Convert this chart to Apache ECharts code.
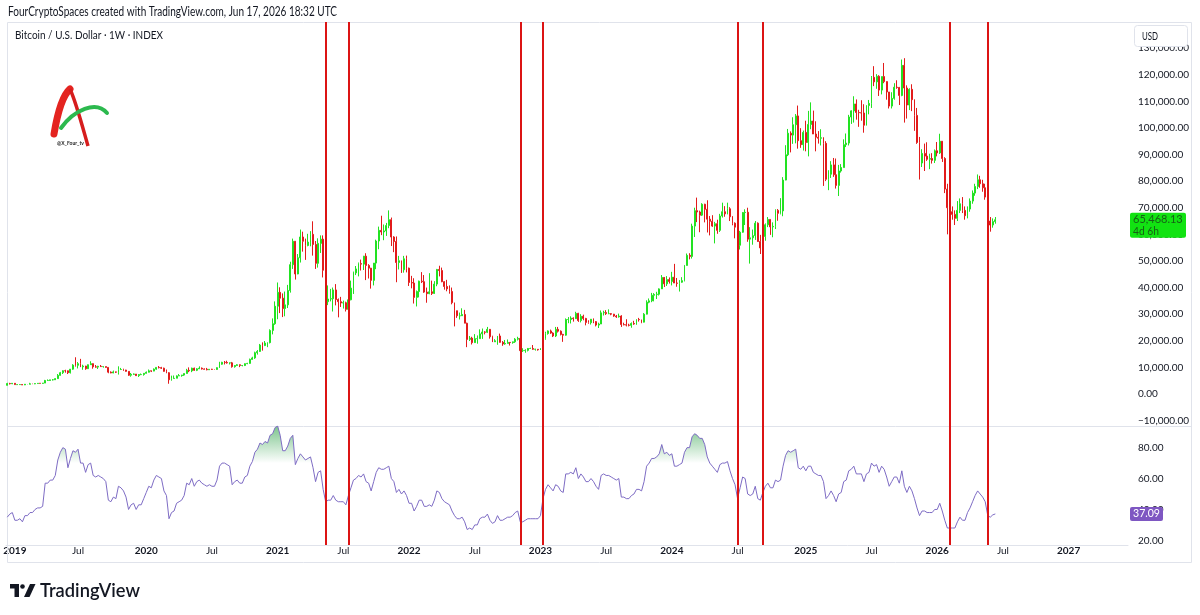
<!DOCTYPE html>
<html>
<head>
<meta charset="utf-8">
<title>BTCUSD 1W</title>
<script src="https://cdn.jsdelivr.net/npm/echarts@6.0.0/dist/echarts.min.js"></script>
<style>
html,body{margin:0;padding:0;background:#fff}
#main{width:1200px;height:615px}
</style>
</head>
<body>
<div id="main"></div>
<script>
// weekly bars start on this Monday; the axis keeps running to mid 2027
var firstWeek = '2018-12-17';
var axisWeeks = 444;

// BTC weekly candles in thousands of USD (a week opens at the prior week's close)
var firstOpen = 3.25;
var closes = [
  3.95,3.86,4.03,3.53,3.53,3.55,3.41,3.67,3.67,3.82,3.81,3.92,4.02,3.99,4.1,5.07,5.07,5.32,5.35,5.77,
  7.0,8.0,8.74,8.73,8.0,9.33,10.85,10.8,11.4,10.2,10.5,9.5,11.0,11.4,10.2,10.1,10.4,10.3,10.3,10.0,
  8.2,7.9,8.3,8.2,9.2,9.2,9.0,8.5,7.05,7.4,7.5,6.9,7.3,7.3,7.76,8.18,8.7,8.6,9.34,10.0,
  9.9,9.7,8.5,8.0,5.35,5.8,5.9,6.8,6.9,7.1,7.7,8.9,8.7,9.7,8.9,9.45,9.7,9.4,9.3,9.1,
  9.3,9.25,9.2,9.9,11.2,11.9,11.85,11.65,11.7,10.25,10.7,11.0,10.7,10.7,11.4,11.5,13.0,13.55,15.5,16.0,
  18.4,18.2,19.15,19.3,23.9,26.4,33.0,38.2,36.0,32.1,33.5,38.9,48.6,57.4,45.1,51.2,59.0,57.4,55.8,57.1,
  60.0,56.2,49.1,56.6,58.2,46.5,34.7,35.7,35.8,39.1,35.5,34.7,34.2,34.3,31.8,35.4,39.8,45.5,47.0,49.0,
  48.8,51.8,48.3,47.3,42.7,49.2,57.5,61.5,60.9,61.3,63.3,65.5,59.0,57.3,49.4,50.1,46.7,50.8,47.3,41.9,
  41.7,36.3,38.5,42.4,42.2,38.3,37.7,38.4,37.8,41.3,46.8,46.4,42.2,40.4,39.5,38.5,34.3,31.3,29.4,29.4,
  29.9,26.6,20.5,21.0,19.3,20.8,20.8,22.6,23.3,23.2,24.3,21.5,19.6,20.0,21.8,19.4,18.8,19.0,19.4,19.3,
  19.6,20.6,20.9,16.3,16.3,16.4,17.1,17.1,16.8,16.8,16.6,17.1,20.9,22.7,23.7,22.9,21.8,24.3,23.6,22.4,
  22.1,28.0,28.0,28.5,28.3,30.3,27.6,29.2,28.4,26.9,26.8,28.1,27.2,25.9,26.3,30.5,30.6,30.2,30.2,30.0,
  29.3,29.0,29.3,26.1,26.0,25.9,25.8,26.5,26.3,28.0,27.9,27.0,30.0,34.5,35.0,37.1,37.4,37.5,39.5,43.8,
  41.4,43.0,42.3,43.9,41.7,41.6,42.0,42.6,48.3,52.1,51.7,63.1,68.9,68.4,67.2,71.3,69.4,65.7,64.9,63.1,
  64.0,61.5,66.9,68.5,67.7,69.6,66.6,64.2,62.7,55.9,60.8,68.2,68.3,58.2,58.7,59.5,64.2,57.3,54.9,59.2,
  63.6,65.6,62.8,63.0,69.0,67.9,68.8,80.4,89.9,98.0,97.3,101.2,104.5,95.2,93.7,98.3,94.5,101.3,102.6,97.7,
  96.5,96.1,96.3,94.2,80.7,82.6,86.1,82.4,78.4,83.8,85.1,93.7,94.3,104.1,106.4,109.0,105.8,105.7,105.6,101.0,
  108.4,109.2,119.0,117.3,119.4,114.2,119.3,117.4,113.5,108.2,111.1,115.3,115.2,112.2,123.5,115.0,108.6,114.5,110.6,104.7,
  94.5,86.8,90.4,89.4,88.2,88.5,87.8,91.4,90.6,95.0,88.5,77.0,70.0,68.5,67.5,66.0,69.0,71.5,69.0,67.0,
  69.5,72.5,75.5,78.0,80.5,79.0,77.5,74.0,65.0,63.5,64.8,65.46813
];
var highs = [
  4.2,4.2,4.1,4.1,3.7,3.6,3.6,3.7,3.7,4.2,3.9,3.95,4.03,4.08,4.13,5.3,5.47,5.35,5.6,5.9,
  7.5,8.3,8.9,9.1,8.8,9.4,11.2,13.8,12.0,13.2,11.0,10.6,11.1,12.3,11.5,10.9,10.6,10.9,10.4,10.3,
  10.0,8.5,8.8,8.4,10.4,9.8,9.5,9.1,8.5,7.9,7.7,7.5,7.5,7.7,7.8,8.45,9.2,8.75,9.6,10.1,
  10.5,10.2,9.9,9.2,8.2,6.9,6.95,7.0,7.5,7.2,7.7,9.45,10.0,9.9,9.9,9.7,10.4,9.95,9.6,9.8,
  9.3,9.45,9.3,10.0,12.1,12.1,12.4,12.5,11.8,12.05,10.9,11.2,10.9,10.9,11.5,11.7,13.3,14.0,15.9,16.5,
  18.8,19.4,19.9,19.4,24.3,28.4,34.8,41.9,40.1,37.8,38.5,41.0,49.7,58.4,57.5,52.6,61.8,61.0,58.4,60.2,
  61.2,64.9,57.5,58.5,59.6,59.6,46.6,40.8,39.5,40.0,41.3,35.9,36.5,35.1,34.7,35.4,42.6,46.0,48.1,49.4,
  50.5,51.9,52.9,48.8,47.4,49.2,58.0,62.9,67.0,63.7,64.3,69.0,66.3,59.3,59.2,51.9,50.1,51.9,52.0,47.5,
  44.4,43.5,38.9,42.6,45.8,44.7,40.0,45.4,42.6,42.4,47.0,48.2,47.5,42.4,42.9,40.8,40.0,34.3,31.3,30.6,
  32.2,31.6,26.8,21.8,21.5,22.5,22.0,24.3,24.6,23.6,25.2,24.4,21.9,20.6,21.8,22.7,19.9,20.3,20.5,19.5,
  19.7,21.0,21.5,21.0,17.2,16.8,17.3,17.4,18.4,17.0,16.9,17.2,21.1,23.4,23.9,24.2,23.2,25.2,25.2,23.9,
  22.6,28.4,28.9,29.2,28.8,30.9,30.5,30.0,29.8,28.6,27.7,28.2,28.4,27.4,26.8,31.4,31.3,31.5,31.8,30.4,
  30.1,29.7,30.2,29.6,26.8,28.1,26.4,26.9,27.5,28.0,28.6,27.9,30.4,35.2,35.9,38.0,37.9,38.4,39.7,44.7,
  43.4,44.3,43.8,45.9,48.9,43.6,42.8,43.9,48.5,52.8,52.9,64.0,70.0,73.8,68.9,71.7,71.5,72.8,66.9,67.2,
  64.7,65.5,67.7,71.9,70.6,71.9,70.2,66.9,64.5,63.8,61.3,68.4,69.4,70.0,62.7,61.8,65.0,64.5,59.8,60.7,
  64.1,66.5,65.6,64.5,69.4,69.5,73.6,81.5,93.5,99.6,98.7,104.0,105.2,108.4,99.9,99.0,102.7,106.4,109.6,106.5,
  102.5,98.8,99.5,96.5,95.0,84.1,87.5,88.7,88.5,86.1,86.4,95.7,97.9,104.9,106.6,111.9,110.7,106.8,110.4,108.9,
  108.5,110.5,119.5,123.2,120.2,119.8,119.3,124.4,117.5,113.5,113.4,116.8,117.9,115.4,125.7,126.2,116.0,114.9,116.4,107.0,
  107.5,96.6,92.0,94.1,94.6,90.3,90.5,91.9,94.7,97.8,95.0,89.0,79.0,72.0,70.5,69.0,72.5,73.5,74.0,70.5,
  70.5,73.5,76.5,79.0,82.5,82.0,80.5,79.0,75.0,66.5,66.0,66.5
];
var lows = [
  3.2,3.6,3.7,3.5,3.5,3.45,3.35,3.35,3.58,3.65,3.7,3.7,3.83,3.95,3.9,4.1,4.93,5.0,5.08,5.28,
  5.7,6.9,7.5,8.0,7.5,7.7,9.1,10.3,9.6,10.1,9.1,9.1,9.4,11.0,9.5,9.9,9.4,10.2,9.9,9.9,
  7.8,7.8,7.8,7.9,7.3,9.0,8.7,8.4,6.8,6.5,7.2,6.8,6.4,7.1,6.9,7.7,8.1,8.25,8.55,9.1,
  9.6,9.4,8.4,7.8,3.85,5.0,5.8,5.9,6.75,6.5,6.8,7.7,8.2,8.2,8.7,8.6,9.4,9.2,9.2,8.9,
  9.0,9.1,9.1,9.1,9.9,11.0,11.1,11.4,11.1,9.9,9.9,10.6,10.1,10.4,10.5,11.2,11.4,12.9,13.2,14.8,
  15.8,16.3,18.0,17.6,19.0,22.4,26.0,28.1,30.4,28.9,29.2,32.3,38.1,47.0,43.0,45.0,49.4,53.5,50.4,55.5,
  55.5,52.0,47.0,47.5,53.0,43.8,30.0,33.4,34.8,31.0,33.3,28.8,32.7,32.1,31.0,29.3,35.2,37.6,44.7,44.2,
  46.4,46.6,42.8,43.4,39.6,40.8,46.9,54.4,59.7,57.8,59.4,62.3,55.6,53.3,42.0,46.8,45.5,45.6,45.7,40.6,
  39.7,34.0,32.9,36.3,41.7,38.0,34.3,37.5,37.2,37.6,40.5,44.2,42.0,39.2,38.6,37.7,33.7,25.4,28.6,28.0,
  29.3,26.6,17.6,19.9,18.6,19.3,18.9,20.8,20.7,22.4,22.9,20.8,19.5,19.6,18.5,19.3,18.1,18.5,19.0,18.2,
  18.9,19.2,20.1,15.6,15.8,15.5,16.0,16.9,16.6,16.3,16.3,16.6,17.1,20.4,22.3,22.6,21.4,21.4,23.1,22.0,
  19.6,21.9,26.6,26.5,27.2,28.2,27.1,26.9,27.7,25.8,26.4,26.1,26.6,25.4,24.8,26.3,29.5,29.7,30.0,29.6,
  29.0,28.6,28.7,25.2,25.8,25.4,25.4,24.9,26.0,26.0,27.2,26.6,26.9,29.9,34.1,34.5,34.8,35.7,37.0,39.5,
  40.2,40.6,41.5,40.8,41.7,40.3,38.5,41.8,42.3,48.3,50.6,50.9,59.0,64.6,60.8,66.9,64.5,60.7,59.6,62.8,
  56.6,60.2,60.9,66.3,66.6,67.5,65.0,63.4,58.5,53.5,54.3,60.6,63.5,57.2,49.0,56.1,57.9,57.2,52.6,54.6,
  57.6,62.7,59.8,58.9,62.0,65.1,67.5,66.8,80.3,89.4,90.8,94.0,94.2,92.2,92.5,91.5,91.2,89.3,99.5,97.7,
  91.2,94.1,93.4,78.2,80.0,76.6,81.2,81.6,77.2,74.4,83.2,85.1,92.8,93.4,101.5,102.0,103.1,100.4,102.7,98.2,
  100.9,105.1,107.5,115.7,114.7,112.0,112.6,116.8,110.6,107.3,107.3,110.6,114.7,108.6,111.9,102.0,103.5,106.7,106.3,98.9,
  94.0,80.6,85.3,83.8,87.6,84.5,86.6,86.8,89.3,90.2,87.2,75.5,60.0,65.0,65.5,63.5,65.0,68.0,68.0,65.5,
  66.0,68.5,71.5,74.5,77.0,77.5,76.0,73.0,62.5,61.0,62.5,64.0
];

// RSI pane, one reading per weekly bar
var rsiValues = [
  35,37,38,33,33,34,32,36,36,38,38,40,41,41,42,57,57,59,59,62,
  72,77,80,79,67,73,78,77,79,70,70,64,69,70,62,61,62,61,60,58,
  46,45,48,47,55,54,52,48,40,43,44,40,43,43,47,51,55,54,59,62,
  61,60,52,49,34,38,39,44,45,46,49,57,56,60,55,58,59,57,56,55,
  56,55,55,59,68,70,70,69,68,56,58,59,57,57,61,62,68,71,77,79,
  83,82,84,83,88,89,93,94,88,78,78,81,86,88,69,73,76,74,72,73,
  74,67,58,64,65,53,45,46,46,49,46,45,45,45,43,49,54,59,60,62,
  61,63,58,57,52,58,64,67,66,66,67,68,60,58,51,53,50,52,49,44,
  44,39,42,46,46,42,42,43,42,46,52,51,47,45,44,43,39,36,34,34,
  35,32,27,28,27,30,30,34,35,35,37,33,31,32,36,33,33,34,35,35,
  36,38,39,32,32,33,34,34,34,34,34,36,47,53,56,54,52,56,55,52,
  51,63,63,64,63,67,60,63,61,58,58,60,58,55,53,62,63,62,62,61,
  60,59,60,48,48,47,47,49,50,53,53,52,58,68,70,73,73,74,76,82,
  76,77,75,76,68,68,69,70,77,80,80,87,89,88,86,86,82,74,70,68,
  66,64,69,70,70,71,65,60,56,47,54,61,60,50,49,50,55,47,46,51,
  55,57,54,54,59,58,59,68,75,78,77,78,79,67,66,68,65,68,68,64,
  63,62,62,58,47,49,52,49,45,50,51,58,59,65,66,68,63,63,63,58,
  63,64,70,68,69,64,68,66,61,55,58,61,61,57,65,55,51,55,52,47,
  41,36,39,39,38,38,38,40,40,44,39,33,28,28,28,28,32,35,33,33,
  38,41,45,49,52,50,48,45,36,35,36.5,37.09
];

// weeks carrying the red vertical markers
var markedWeeks = ['2021-05-17','2021-07-19','2022-11-07','2023-01-09','2024-07-01','2024-09-09','2026-02-09','2026-05-25'];

var priceTicks = [130000,120000,110000,100000,90000,80000,70000,60000,50000,40000,30000,20000,10000,0,-10000];
var rsiTicks = [20,40,60,80];
var lastPrice = 65468.13;
var lastRsi = 37.09;
var countdown = '4d 6h';

var UP = '#22e222', DOWN = '#e21b1b', MARK = '#dc1414', INK = '#131722', FRAME = '#e0e3eb';
var FONT = 'Lato, sans-serif';
var AX = 10;

var probeCtx = document.createElement('canvas').getContext('2d');
function textWidth(s, size, weight) {
  probeCtx.font = (weight || 'normal') + ' ' + size + 'px ' + FONT;
  return probeCtx.measureText(s).width;
}

var weeks = [];
var t0 = Date.parse(firstWeek + 'T00:00:00Z');
for (var i = 0; i < axisWeeks; i++) {
  weeks.push(new Date(t0 + i * 604800000).toISOString().slice(0, 10));
}

var candles = closes.map(function (c, i) {
  var o = i ? closes[i - 1] : firstOpen;
  return [o * 1000, c * 1000, lows[i] * 1000, highs[i] * 1000];
});

function periodStart(idx) {
  if (idx === 0) return false;
  var m = weeks[idx].slice(5, 7);
  return m !== weeks[idx - 1].slice(5, 7) && (m === '01' || m === '07');
}

function money(v) {
  return v.toLocaleString('en-US', {minimumFractionDigits: 2, maximumFractionDigits: 2}).replace('-', '\u2212');
}

function markers() {
  return {
    silent: true,
    symbol: ['none', 'none'],
    label: {show: false},
    lineStyle: {color: MARK, width: 2, type: 'solid'},
    data: markedWeeks.map(function (d) { return {xAxis: d}; })
  };
}

var chart = echarts.init(document.getElementById('main'));

var option = {
  animation: false,
  backgroundColor: '#ffffff',
  textStyle: {fontFamily: FONT},
  grid: [
    {left: 6, right: 72, top: 22, height: 404},
    {left: 6, right: 72, top: 426, height: 119}
  ],
  xAxis: [
    {
      type: 'category', gridIndex: 0, data: weeks, boundaryGap: true,
      axisLine: {show: false}, axisTick: {show: false}, axisLabel: {show: false}, splitLine: {show: false}
    },
    {
      type: 'category', gridIndex: 1, data: weeks, boundaryGap: true,
      axisLine: {show: true, lineStyle: {color: FRAME}}, axisTick: {show: false}, splitLine: {show: false},
      axisLabel: {
        interval: function (idx) { return periodStart(idx); },
        formatter: function (v) { return v.slice(5, 7) === '01' ? '{y|' + v.slice(0, 4) + '}' : 'Jul'; },
        margin: 1, fontSize: AX, color: INK, fontFamily: FONT,
        rich: {y: {fontWeight: 'bold', fontSize: AX, color: INK, fontFamily: FONT}}
      }
    }
  ],
  yAxis: [
    {
      type: 'value', gridIndex: 0, position: 'right', min: -12030, max: 139800,
      splitLine: {show: false}, axisLine: {show: false}, axisTick: {show: false},
      axisLabel: {customValues: priceTicks, formatter: money, margin: 10, fontSize: AX, color: INK, fontFamily: FONT}
    },
    {
      type: 'value', gridIndex: 1, position: 'right', min: 17, max: 94,
      splitLine: {show: false}, axisLine: {show: false}, axisTick: {show: false},
      axisLabel: {customValues: rsiTicks, formatter: function (v) { return v.toFixed(2); }, margin: 10, fontSize: AX, color: INK, fontFamily: FONT}
    }
  ],
  series: [
    {
      name: 'BTCUSD', type: 'candlestick', xAxisIndex: 0, yAxisIndex: 0,
      data: candles, barWidth: 1.4,
      itemStyle: {color: UP, color0: DOWN, borderColor: UP, borderColor0: DOWN, borderWidth: 1},
      markLine: markers()
    },
    {
      name: 'RSI', type: 'line', xAxisIndex: 1, yAxisIndex: 1,
      data: rsiValues, symbol: 'none', showSymbol: false,
      lineStyle: {color: '#7e6cc4', width: 1},
      areaStyle: {color: 'rgba(0,0,0,0)'},
      markLine: markers()
    }
  ]
};

chart.setOption(option);

var y70 = chart.convertToPixel({yAxisIndex: 1}, 70);
var y100 = chart.convertToPixel({yAxisIndex: 1}, 100);
var yLast = chart.convertToPixel({yAxisIndex: 0}, lastPrice);
var yRsi = chart.convertToPixel({yAxisIndex: 1}, lastRsi);

var obFill = new echarts.graphic.LinearGradient(0, y100, 0, y70, [
  {offset: 0, color: 'rgba(20,150,50,1)'},
  {offset: 1, color: 'rgba(20,150,50,0)'}
], true);

// text squeezed (never widened) to the width it takes in the screenshot
function txt(x, y, s, size, color, fitWidth, weight) {
  var w = textWidth(s, size, weight);
  var sx = fitWidth ? Math.min(1, fitWidth / w) : 1;
  return {
    type: 'text', x: x, y: y, z: 120, silent: true, scaleX: sx,
    style: {text: s, fill: color, fontSize: size, fontFamily: FONT, fontWeight: weight || 'normal', verticalAlign: 'middle'}
  };
}

chart.setOption({
  series: [{}, {areaStyle: {color: obFill}}],
  graphic: [
    {type: 'rect', z: 1, silent: true, shape: {x: 7.5, y: 22.5, width: 1184, height: 540}, style: {fill: null, stroke: FRAME, lineWidth: 1}},
    {type: 'line', z: 1, silent: true, shape: {x1: 7.5, y1: 426.5, x2: 1191.5, y2: 426.5}, style: {stroke: FRAME, lineWidth: 1}},
    txt(8, 12, 'FourCryptoSpaces created with TradingView.com, Jun 17, 2026 18:32 UTC', 12.5, INK, 329),
    txt(15, 35, 'Bitcoin / U.S. Dollar \u00b7 1W \u00b7 INDEX', 12, INK, 148),
    {type: 'rect', z: 110, silent: true, shape: {x: 1134.5, y: 25.5, width: 53, height: 21, r: 3}, style: {fill: '#ffffff', stroke: FRAME}},
    txt(1142, 36, 'USD', 11, INK, 16),
    {type: 'rect', z: 110, silent: true, shape: {x: 1130, y: yLast - 7, width: 56, height: 25, r: 2}, style: {fill: '#12e312'}},
    txt(1133, yLast, money(lastPrice), 11, '#175e17', 50),
    txt(1133, yLast + 12, countdown, 11, '#175e17', 26),
    {type: 'rect', z: 110, silent: true, shape: {x: 1130, y: yRsi - 7, width: 33, height: 14, r: 2}, style: {fill: '#7e57c2'}},
    txt(1133, yRsi, lastRsi.toFixed(2), 11, '#ffffff', 27),
    // channel logo
    {type: 'bezierCurve', z: 5, silent: true, shape: {x1: 54, y1: 134, cpx1: 57, cpy1: 116, cpx2: 62, cpy2: 96, x2: 70, y2: 89}, style: {stroke: '#e42420', lineWidth: 7, lineCap: 'round', fill: null}},
    {type: 'bezierCurve', z: 5, silent: true, shape: {x1: 70, y1: 89, cpx1: 76, cpy1: 102, cpx2: 82, cpy2: 125, x2: 88, y2: 146}, style: {stroke: '#d61d1d', lineWidth: 3.5, fill: null}},
    {type: 'bezierCurve', z: 6, silent: true, shape: {x1: 61, y1: 128, cpx1: 74, cpy1: 110, cpx2: 96, cpy2: 100, x2: 107, y2: 113}, style: {stroke: '#2cb94e', lineWidth: 4, lineCap: 'round', fill: null}},
    txt(57, 143, '@X_Four_tv', 5, '#222222', 29, 'bold'),
    // footer brand
    {type: 'rect', z: 5, silent: true, shape: {x: 10, y: 584, width: 9, height: 4.5}, style: {fill: INK}},
    {type: 'rect', z: 5, silent: true, shape: {x: 14.5, y: 584, width: 4.5, height: 13}, style: {fill: INK}},
    {type: 'circle', z: 5, silent: true, shape: {cx: 22.5, cy: 586.5, r: 2.3}, style: {fill: INK}},
    {type: 'polygon', z: 5, silent: true, shape: {points: [[24, 597], [30, 584], [35.5, 584], [29.5, 597]]}, style: {fill: INK}},
    txt(40, 590.5, 'TradingView', 19, INK, 100, 600)
  ]
});
</script>
</body>
</html>
